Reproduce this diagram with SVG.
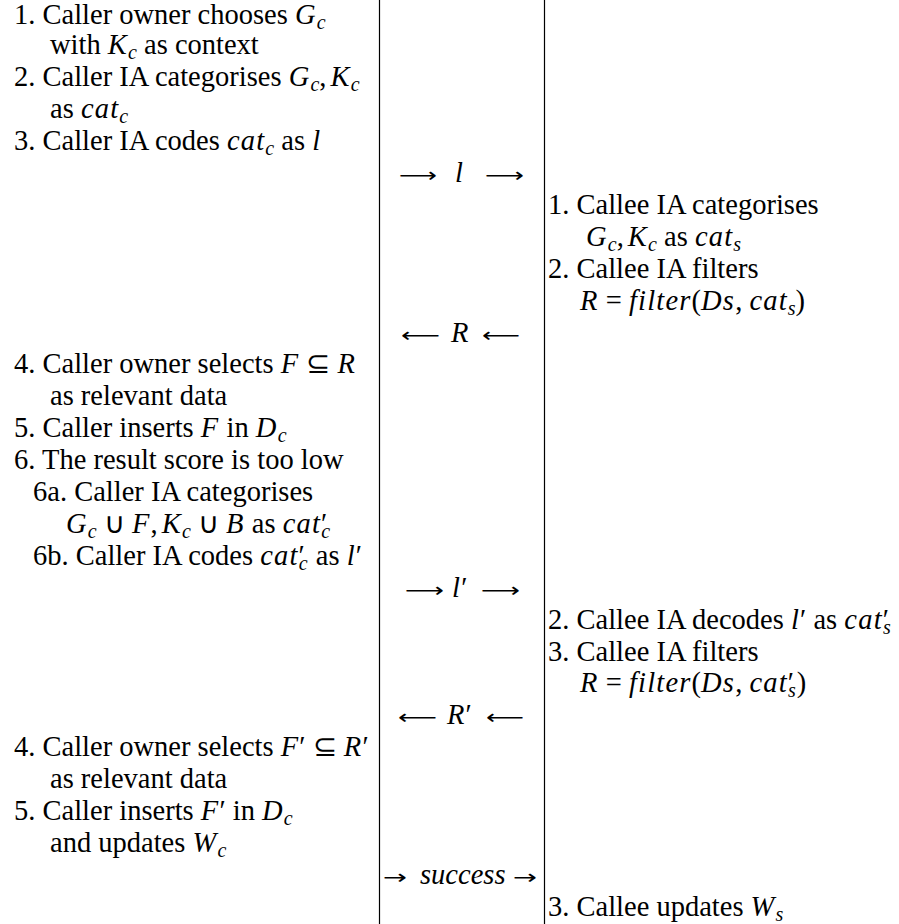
<svg xmlns="http://www.w3.org/2000/svg" width="899" height="924" viewBox="0 0 899 924">
<style>
text{font-family:"Liberation Serif","Times New Roman",serif;font-size:28.5px;fill:#000}
.m{font-style:italic;letter-spacing:1.2px}
.mi{font-style:italic}
.sb{font-style:italic;font-size:20px}
.ar{font-family:"DejaVu Sans",sans-serif;font-size:20px}
.rule{stroke:#000;stroke-width:1.2}
</style>
<rect width="899" height="924" fill="#fff"/>
<g id="rules">
<line class="rule" x1="379.5" y1="0" x2="379.5" y2="924"/>
<line class="rule" x1="544.5" y1="0" x2="544.5" y2="924"/>
</g>
<g id="caller">
<text x="14" y="24">1. Caller owner chooses <tspan class="m">G</tspan><tspan class="sb" dy="5">c</tspan></text>
<text x="50" y="54.4">with <tspan class="m">K</tspan><tspan class="sb" dy="5">c</tspan><tspan dy="-5"> as context</tspan></text>
<text x="14" y="86.3">2. Caller IA categorises <tspan class="m">G</tspan><tspan class="sb" dy="5">c</tspan><tspan dy="-5">,</tspan><tspan class="m" dx="4">K</tspan><tspan class="sb" dy="5">c</tspan></text>
<text x="50" y="118.2">as <tspan class="m">cat</tspan><tspan class="sb" dy="5">c</tspan></text>
<text x="14" y="150.1">3. Caller IA codes <tspan class="m">cat</tspan><tspan class="sb" dy="5">c</tspan><tspan dy="-5"> as </tspan><tspan class="m">l</tspan></text>
<text x="14" y="373.4">4. Caller owner selects <tspan class="m">F</tspan> ⊆ <tspan class="m">R</tspan></text>
<text x="50" y="405.3">as relevant data</text>
<text x="14" y="437.2">5. Caller inserts <tspan class="m">F</tspan> in <tspan class="m">D</tspan><tspan class="sb" dy="5">c</tspan></text>
<text x="14" y="469.1">6. The result score is too low</text>
<text x="33" y="501">6a. Caller IA categorises</text>
<text x="66" y="532.9"><tspan class="m">G</tspan><tspan class="sb" dy="5">c</tspan><tspan dy="-5"> ∪ </tspan><tspan class="m">F</tspan>,<tspan class="m" dx="4">K</tspan><tspan class="sb" dy="5">c</tspan><tspan dy="-5"> ∪ </tspan><tspan class="m">B</tspan> as <tspan class="m">cat</tspan>′<tspan class="sb" dx="-6" dy="5">c</tspan></text>
<text x="33" y="564.8">6b. Caller IA codes <tspan class="m">cat</tspan>′<tspan class="sb" dx="-6" dy="5">c</tspan><tspan dy="-5" dx="1"> as </tspan><tspan class="m">l</tspan>′</text>
<text x="14" y="756.2">4. Caller owner selects <tspan class="m">F</tspan>′ ⊆ <tspan class="m">R</tspan>′</text>
<text x="50" y="788.1">as relevant data</text>
<text x="14" y="820">5. Caller inserts <tspan class="m">F</tspan>′ in <tspan class="m">D</tspan><tspan class="sb" dy="5">c</tspan></text>
<text x="50" y="851.9">and updates <tspan class="m">W</tspan><tspan class="sb" dy="5">c</tspan></text>
</g>
<g id="messages">
<g id="msg-l">
<text class="ar" x="399" y="182" textLength="38" lengthAdjust="spacingAndGlyphs">⟶</text>
<text x="455" y="182" class="m">l</text>
<text class="ar" x="485" y="182" textLength="39" lengthAdjust="spacingAndGlyphs">⟶</text>
</g>
<g id="msg-R">
<text class="ar" x="401" y="341.5" textLength="39" lengthAdjust="spacingAndGlyphs">⟵</text>
<text x="451" y="341.5" class="m">R</text>
<text class="ar" x="482" y="341.5" textLength="38" lengthAdjust="spacingAndGlyphs">⟵</text>
</g>
<g id="msg-l2">
<text class="ar" x="405" y="596.7" textLength="39" lengthAdjust="spacingAndGlyphs">⟶</text>
<text x="452" y="596.7"><tspan class="m">l</tspan>′</text>
<text class="ar" x="481" y="596.7" textLength="39" lengthAdjust="spacingAndGlyphs">⟶</text>
</g>
<g id="msg-R2">
<text class="ar" x="398" y="724.3" textLength="39" lengthAdjust="spacingAndGlyphs">⟵</text>
<text x="447" y="724.3"><tspan class="m">R</tspan>′</text>
<text class="ar" x="486" y="724.3" textLength="38" lengthAdjust="spacingAndGlyphs">⟵</text>
</g>
<g id="msg-success">
<text class="ar" x="383" y="883.8" textLength="24" lengthAdjust="spacingAndGlyphs">→</text>
<text x="420" y="883.8" class="mi">success</text>
<text class="ar" x="513" y="883.8" textLength="24" lengthAdjust="spacingAndGlyphs">→</text>
</g>
</g>
<g id="callee">
<text x="548" y="213.9">1. Callee IA categorises</text>
<text x="586" y="245.8"><tspan class="m">G</tspan><tspan class="sb" dy="5">c</tspan><tspan dy="-5">,</tspan><tspan class="m" dx="4">K</tspan><tspan class="sb" dy="5">c</tspan><tspan dy="-5"> as </tspan><tspan class="m">cat</tspan><tspan class="sb" dy="5">s</tspan></text>
<text x="548" y="277.7">2. Callee IA filters</text>
<text x="580" y="309.6"><tspan class="m">R</tspan> = <tspan class="m">filter</tspan>(<tspan class="m">Ds</tspan>, <tspan class="m">cat</tspan><tspan class="sb" dy="5">s</tspan><tspan dy="-5">)</tspan></text>
<text x="548" y="628.6">2. Callee IA decodes <tspan class="m">l</tspan>′ as <tspan class="m">cat</tspan>′<tspan class="sb" dx="-6" dy="5">s</tspan></text>
<text x="548" y="660.5">3. Callee IA filters</text>
<text x="580" y="692.4"><tspan class="m">R</tspan> = <tspan class="m">filter</tspan>(<tspan class="m">Ds</tspan>, <tspan class="m">cat</tspan>′<tspan class="sb" dx="-6" dy="5">s</tspan><tspan dy="-5" dx="1">)</tspan></text>
<text x="548" y="915.7">3. Callee updates <tspan class="m">W</tspan><tspan class="sb" dy="5">s</tspan></text>
</g>
</svg>
